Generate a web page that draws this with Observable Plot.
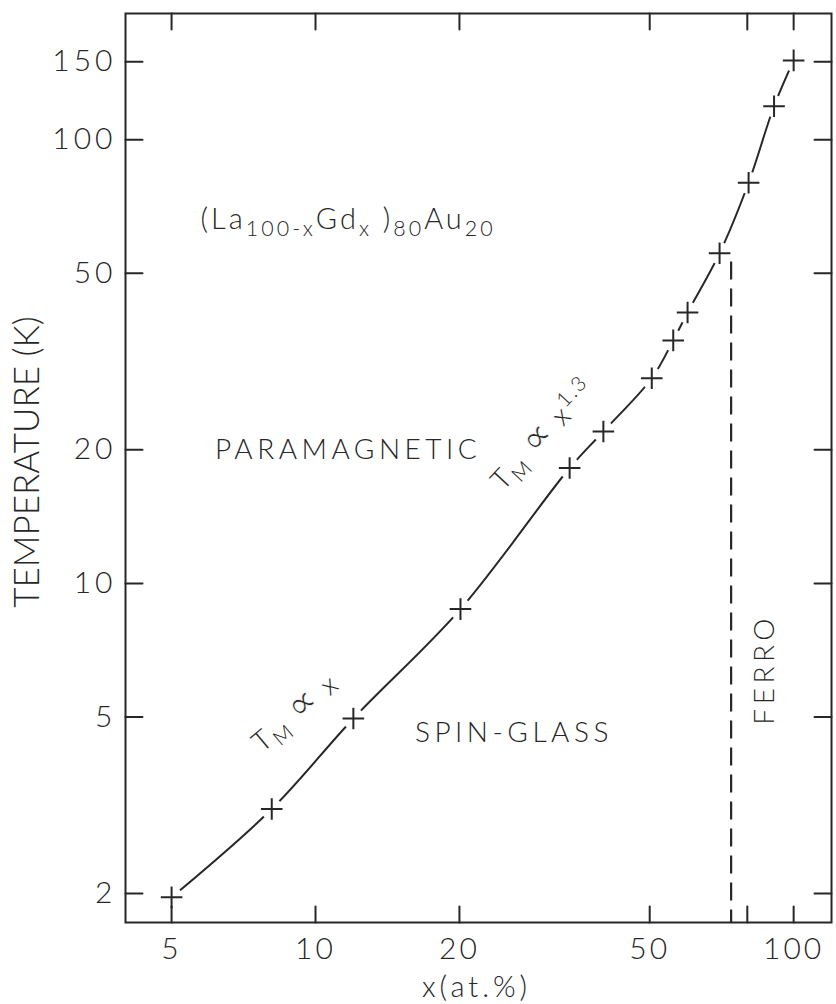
<!DOCTYPE html>
<html>
<head>
<meta charset="utf-8">
<script src="https://cdn.jsdelivr.net/npm/d3@7"></script>
<script src="https://cdn.jsdelivr.net/npm/@observablehq/plot@0.6"></script>
<style>
  html, body { margin: 0; padding: 0; background: #fff; }
  #chart svg { display: block; }
</style>
</head>
<body>
<div id="chart"></div>
<script>
// Gd concentration x (at.%) and magnetic ordering temperature T_M (K)
const concentration = [5, 8.1, 12, 20.1, 34, 40, 50.5, 56, 60, 70, 80.5, 91, 100];
const temperature = [1.96, 3.1, 4.96, 8.75, 18.2, 22, 29, 35.3, 40.8, 55.5, 80, 119, 151];

// axis ticks
const xTicks = [5, 10, 20, 50, 80, 100];
const yTicks = [2, 5, 10, 20, 50, 100, 150];
const xDomain = [4.005, 120];
const yDomain = [1.72, 192.6];

// spin-glass / ferromagnet boundary (x in at.%, upper end in K)
const ferroBoundaryX = 74;
const ferroBoundaryTop = 53;

// region names, anchored in data units
const regionNames = ["PARAMAGNETIC", "SPIN-GLASS"];
const regionX = [11.7, 26];
const regionT = [20, 4.6];
const ferroName = ["FERRO"];
const ferroX = [87];
const ferroT = [6.4];

// alloy formula and power laws as [text, level] runs
// (-1 subscript, 1 superscript, 2 mathematical symbol)
const formulaParts = [["(La", 0], ["100-x", -1], ["Gd", 0], ["x", -1], [" )", 0], ["80", -1], ["Au", 0], ["20", -1]];
const formulaX = [5.75];
const formulaT = [66];
const lawParts = [
  [["T", 0], ["M", -1], [" ", 0], ["\u221D", 2], [" x", 0]],
  [["T", 0], ["M", -1], [" ", 0], ["\u221D", 2], [" x", 0], ["1.3", 1]]
];
const lawX = [9.1, 30];
const lawT = [5.1, 21.6];

const plain = (parts) => parts.map((p) => p[0]).join("");
const points = concentration.map((x, i) => ({x, T: temperature[i]}));
const regions = regionNames.map((name, i) => ({name, x: regionX[i], T: regionT[i]}));
const ferro = ferroName.map((name, i) => ({name, x: ferroX[i], T: ferroT[i]}));
const formula = [{name: plain(formulaParts), x: formulaX[0], T: formulaT[0]}];
const laws = lawParts.map((parts, i) => ({name: plain(parts), x: lawX[i], T: lawT[i]}));

const ink = "#272727";
const font = "Lato, 'DejaVu Sans', sans-serif";

// a plain stroke used for the inward tick marks
const tickShape = {draw(context, l) { context.moveTo(0, 0); context.lineTo(0, -l); }};
const tickStyle = {length: 16, anchor: "start", shape: tickShape, stroke: ink, strokeWidth: 2};

const chart = Plot.plot({
  width: 836,
  height: 1004,
  marginLeft: 125,
  marginRight: 5,
  marginTop: 13,
  marginBottom: 82,
  style: {fontFamily: font, fontWeight: 300, color: ink, background: "#fff"},
  x: {type: "log", domain: xDomain},
  y: {type: "log", domain: yDomain},
  marks: [
    // T_M(x) curve, broken around each measured point
    Plot.line(points, {x: "x", y: "T", curve: "catmull-rom", stroke: ink, strokeWidth: 2}),
    Plot.dot(points, {x: "x", y: "T", r: 11, fill: "#fff", stroke: null}),
    Plot.ruleX([ferroBoundaryX], {y1: ferroBoundaryTop, y2: yDomain[0], stroke: ink, strokeWidth: 2.2, strokeDasharray: "18,9"}),
    Plot.dot(points, {x: "x", y: "T", symbol: "plus", r: 7, stroke: ink, strokeWidth: 2}),

    Plot.frame({stroke: ink, strokeWidth: 2}),
    // inward ticks on all four sides
    Plot.vector(xTicks, {x: (d) => d, frameAnchor: "bottom", rotate: 0, ...tickStyle}),
    Plot.vector(xTicks, {x: (d) => d, frameAnchor: "top", rotate: 180, ...tickStyle}),
    Plot.vector(yTicks, {y: (d) => d, frameAnchor: "left", rotate: 90, ...tickStyle, length: 17}),
    Plot.vector(yTicks, {y: (d) => d, frameAnchor: "right", rotate: -90, ...tickStyle, length: 17}),
    // tick labels
    Plot.axisX(xTicks, {anchor: "bottom", tickSize: 0, tickPadding: 15, fontSize: 30, fill: ink, label: null, tickFormat: (d) => `${d}`}),
    Plot.axisY(yTicks, {anchor: "left", tickSize: 0, tickPadding: 9, fontSize: 30, fill: ink, label: null, tickFormat: (d) => `${d}`}),
    // axis titles
    Plot.text(["TEMPERATURE (K)"], {text: (d) => d, frameAnchor: "left", textAnchor: "middle", lineAnchor: "middle", dx: -98, dy: -6, rotate: -90, fontSize: 35, fill: ink}),
    Plot.text(["x(at.%)"], {text: (d) => d, frameAnchor: "bottom", textAnchor: "middle", lineAnchor: "middle", dy: 65, dx: -2, fontSize: 29, fill: ink}),

    // annotations
    Plot.text(formula, {x: "x", y: "T", text: "name", textAnchor: "start", fontSize: 29, fill: ink}),
    Plot.text(regions, {x: "x", y: "T", text: "name", fontSize: 28, fill: ink}),
    Plot.text(ferro, {x: "x", y: "T", text: "name", rotate: -90, fontSize: 28, fill: ink}),
    Plot.text(laws, {x: "x", y: "T", text: "name", rotate: (d, i) => (i === 0 ? -40 : -47), fontSize: 28, fill: ink})
  ]
});

// rebuild subscripts, superscripts and symbols as tspans
function richText(svg, parts, size) {
  const target = plain(parts);
  d3.select(svg).selectAll("text")
    .filter(function () { return this.textContent === target; })
    .each(function () {
      const t = d3.select(this);
      t.text(null);
      let shift = 0;
      for (const [s, level] of parts) {
        const off = level === -1 ? size * 0.25 : level === 1 ? -size * 0.4 : 0;
        const span = t.append("tspan")
          .attr("dy", off - shift)
          .attr("font-size", level === 2 ? size * 1.4 : level ? size * 0.74 : size)
          .text(s);
        if (level === 2) {
          // thin the heavy fallback glyph of the proportionality sign
          span.attr("font-family", "'DejaVu Sans', sans-serif")
            .attr("stroke", "#fff")
            .attr("stroke-width", 0.7);
        }
        shift = off;
      }
    });
}

// widen the lettering of selected texts
function spaceOut(svg, match, px) {
  d3.select(svg).selectAll("text")
    .filter(function () { return match(this); })
    .style("letter-spacing", `${px}px`);
}

const inGroup = (label) => (el) => el.closest(`g[aria-label="${label}"]`) !== null;
const hasText = (s) => (el) => el.textContent === s;

spaceOut(chart, inGroup("x-axis tick label"), 3);
spaceOut(chart, inGroup("y-axis tick label"), 4);
spaceOut(chart, hasText("x(at.%)"), 4);
regionNames.concat(ferroName).forEach((s) => spaceOut(chart, hasText(s), 4.5));
spaceOut(chart, hasText(plain(formulaParts)), 3);
lawParts.forEach((parts) => spaceOut(chart, hasText(plain(parts)), 2));

richText(chart, formulaParts, 29);
lawParts.forEach((parts) => richText(chart, parts, 28));

document.getElementById("chart").appendChild(chart);
</script>
</body>
</html>
